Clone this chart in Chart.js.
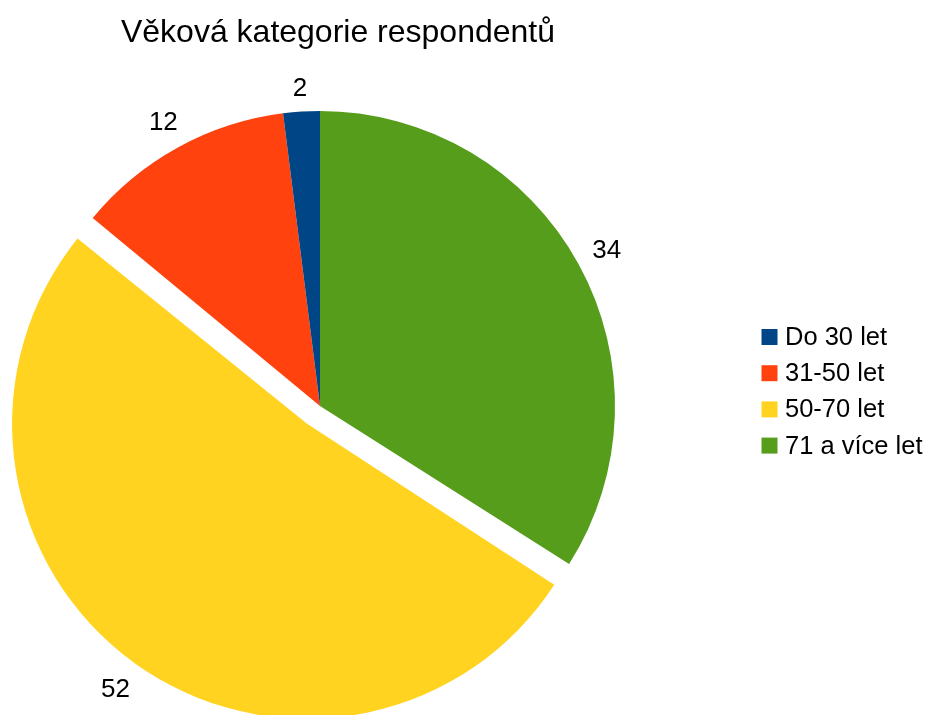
<!DOCTYPE html>
<html lang="cs">
<head>
<meta charset="utf-8">
<title>Věková kategorie respondentů</title>
<script src="https://cdn.jsdelivr.net/npm/chart.js@4.4.1/dist/chart.umd.min.js"></script>
<style>
  html, body { margin: 0; padding: 0; background: #ffffff; }
  #wrap { width: 928px; height: 715px; }
</style>
</head>
<body>
<div id="wrap"><canvas id="graf"></canvas></div>
<script>
// kategorie v pořadí legendy
const kategorie = ["Do 30 let", "31-50 let", "50-70 let", "71 a více let"];
const pocty = [2, 12, 52, 34];
const barvy = ["#004586", "#ff420e", "#ffd320", "#579d1c"];
const vysunuta = "50-70 let";

const pismo = "'Liberation Sans', Arial, sans-serif";

// výseče jdou od vrcholu proti směru hodinek, Chart.js kreslí po směru -> obrátit
const popisky = kategorie.slice().reverse();
const hodnoty = pocty.slice().reverse();
const barvyKola = barvy.slice().reverse();

// o kolik Chart.js při kreslení zvětší poloměr vysunuté výseče
function zvetseni(arc) {
    const posun = (arc.options.offset || 0) / 4;
    return posun * (1 - Math.sin(Math.min(Math.PI, arc.circumference || 0)));
}

// vysunutá výseč má mít stejný poloměr jako ostatní
const bezZvetseni = {
    id: 'bezZvetseni',
    afterDatasetUpdate(chart, args) {
        args.meta.data.forEach(arc => {
            arc.outerRadius -= zvetseni(arc);
        });
    }
};

// nadpis trochu doprava od středu koláče
const posunNadpisu = {
    id: 'posunNadpisu',
    afterLayout(chart) {
        const t = chart.titleBlock;
        if (t) {
            t.left += 18;
            t.right += 18;
        }
    }
};

// čísla hodnot vně koláče
const hodnotyVne = {
    id: 'hodnotyVne',
    afterDatasetsDraw(chart) {
        const ctx = chart.ctx;
        const meta = chart.getDatasetMeta(0);
        const velikost = 26;
        const vyska = velikost * 0.716;
        ctx.save();
        ctx.font = `${velikost}px ${pismo}`;
        ctx.fillStyle = '#000000';
        ctx.textAlign = 'center';
        ctx.textBaseline = 'alphabetic';
        meta.data.forEach((arc, i) => {
            const { x, y, startAngle, endAngle, outerRadius } = arc;
            const stred = (startAngle + endAngle) / 2;
            const dx = Math.cos(stred), dy = Math.sin(stred);
            const posun = (arc.options.offset || 0) / 4;
            const text = String(chart.data.datasets[0].data[i]);
            const sirka = ctx.measureText(text).width;
            const dosah = Math.abs(dx) * sirka / 2 + Math.abs(dy) * vyska / 2;
            const r = posun + outerRadius + zvetseni(arc) + 15 + dosah;
            ctx.fillText(text, x + dx * r, y + dy * r + vyska / 2);
        });
        ctx.restore();
    }
};

// legenda vpravo
const legendaVpravo = {
    id: 'legendaVpravo',
    afterDraw(chart) {
        const ctx = chart.ctx;
        ctx.save();
        ctx.font = `25.5px ${pismo}`;
        ctx.textAlign = 'left';
        ctx.textBaseline = 'alphabetic';
        kategorie.forEach((nazev, i) => {
            const top = 329 + i * 36.2;
            ctx.fillStyle = barvy[i];
            ctx.fillRect(761.5, top, 16, 16);
            ctx.fillStyle = '#000000';
            ctx.fillText(nazev, 785, top + 16);
        });
        ctx.restore();
    }
};

new Chart(document.getElementById('graf').getContext('2d'), {
    type: 'pie',
    data: {
        labels: popisky,
        datasets: [{
            data: hodnoty,
            backgroundColor: barvyKola,
            borderWidth: 0,
            hoverBorderWidth: 0,
            hoverOffset: 0,
            radius: 295,
            // Chart.js posouvá výseč o čtvrtinu offsetu
            offset: popisky.map(k => k === vysunuta ? 88 : 0)
        }]
    },
    options: {
        responsive: true,
        maintainAspectRatio: false,
        animation: false,
        events: [],
        layout: {
            padding: { left: 0, right: 288, top: 0, bottom: 3 }
        },
        plugins: {
            legend: { display: false },
            tooltip: { enabled: false },
            title: {
                display: true,
                text: 'Věková kategorie respondentů',
                color: '#000000',
                font: { family: pismo, size: 32, weight: 'normal', lineHeight: 1.2 },
                padding: { top: 14, bottom: 47.6 }
            }
        }
    },
    plugins: [bezZvetseni, posunNadpisu, hodnotyVne, legendaVpravo]
});
</script>
</body>
</html>
